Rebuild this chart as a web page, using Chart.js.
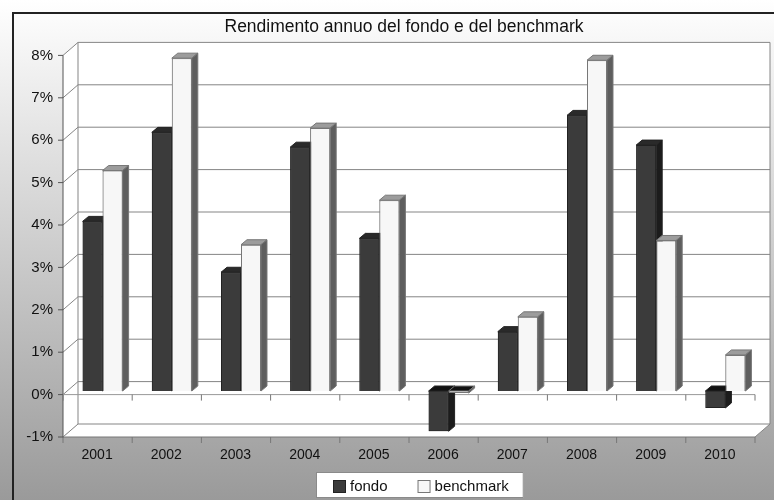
<!DOCTYPE html>
<html>
<head>
<meta charset="utf-8">
<script src="https://cdn.jsdelivr.net/npm/chart.js@4/dist/chart.umd.min.js"></script>
<style>
  html, body { margin: 0; padding: 0; }
  body {
    width: 774px; height: 500px; overflow: hidden; position: relative;
    background: linear-gradient(#ffffff 0%, #9a9a9a 100%);
  }
  #frame {
    position: absolute; left: 12px; top: 12px; width: 800px; height: 600px;
    border-left: 2px solid #222; border-top: 2px solid #222;
  }
  canvas { position: absolute; left: 0; top: 0; }
</style>
</head>
<body>
<div id="frame"></div>
<canvas id="chart" width="774" height="500"></canvas>
<script>
/* === Data === */
const years     = ["2001","2002","2003","2004","2005","2006","2007","2008","2009","2010"];
const fondo     = [4.0, 6.1, 2.8, 5.75, 3.6, -0.95, 1.4, 6.5, 5.8, -0.4];
const benchmark = [5.2, 7.85, 3.45, 6.2, 4.5, -0.05, 1.75, 7.8, 3.55, 0.85];
const yMin = -1, yMax = 8, yStep = 1;

/* === Look === */
const FONT = "'Liberation Sans Narrow', 'Arial Narrow', 'Liberation Sans', Arial, sans-serif";
const FACES = [
  { front: '#3b3b3b', edge: '#222', top: '#2a2a2a', negTop: '#111', side: '#1c1c1c' },
  { front: '#f7f7f7', edge: '#777', top: '#9c9c9c', negTop: '#111', side: '#5e5e5e' }
];
const DX = 6, DY = 5;              // bar depth
const FRONT = { dx: -5, dy: 3.6 }; // front plane vs bar plane
const BACK  = { dx: 10, dy: -9.4 };// back wall vs bar plane

function poly(ctx, pts, fill, stroke) {
  ctx.beginPath();
  pts.forEach(([px, py], i) => i ? ctx.lineTo(px, py) : ctx.moveTo(px, py));
  ctx.closePath();
  if (fill) { ctx.fillStyle = fill; ctx.fill(); }
  if (stroke) { ctx.strokeStyle = stroke; ctx.lineWidth = 1; ctx.stroke(); }
}
function line(ctx, x1, y1, x2, y2) {
  ctx.beginPath(); ctx.moveTo(x1, y1); ctx.lineTo(x2, y2); ctx.stroke();
}

/* === Title centred over the plot rather than the canvas === */
const titleShift = {
  id: 'titleShift',
  afterLayout(chart) {
    const t = chart.titleBlock;
    if (t) { t.left += 24; t.right += 24; }
  }
};

/* === Walls, floor and grid === */
const walls = {
  id: 'walls',
  beforeDatasetsDraw(chart) {
    const { ctx, chartArea: a, scales: { y } } = chart;
    const fl = a.left + FRONT.dx, fr = a.right + FRONT.dx;
    const bl = a.left + BACK.dx,  br = a.right + BACK.dx;
    const fy = v => y.getPixelForValue(v) + FRONT.dy;
    const by = v => y.getPixelForValue(v) + BACK.dy;
    ctx.save();
    // white planes
    ctx.fillStyle = '#fff';
    ctx.fillRect(bl, by(yMax), br - bl, by(yMin) - by(yMax));
    poly(ctx, [[fl, fy(yMax)], [bl, by(yMax)], [bl, by(yMin)], [fl, fy(yMin)]], '#fff');
    poly(ctx, [[fl, fy(yMin)], [bl, by(yMin)], [br, by(yMin)], [fr, fy(yMin)]], '#fff');

    ctx.lineWidth = 1;
    ctx.strokeStyle = '#858585';
    y.ticks.forEach(t => {
      const v = t.value;
      line(ctx, bl, by(v), br, by(v));
      line(ctx, fl, fy(v), bl, by(v));
    });
    line(ctx, bl, by(yMax), bl, by(yMin));
    line(ctx, br, by(yMax), br, by(yMin));
    line(ctx, fr, fy(yMin), br, by(yMin));

    // front axis with ticks
    ctx.strokeStyle = '#555';
    line(ctx, fl, fy(yMax), fl, fy(yMin) + 1);
    y.ticks.forEach(t => line(ctx, fl - 5, fy(t.value), fl, fy(t.value)));

    // floor edges at 0 and at the bottom, with category ticks
    const n = chart.data.labels.length;
    [0, yMin].forEach(v => {
      ctx.strokeStyle = v === 0 ? '#999' : '#777';
      line(ctx, fl, fy(v), fr, fy(v));
      ctx.strokeStyle = '#777';
      for (let i = 0; i <= n; i++) {
        const xb = fl + i * (fr - fl) / n;
        line(ctx, xb, fy(v), xb, fy(v) + 6);
      }
    });
    ctx.restore();
  }
};

/* === 3D bars (redrawn per category so faces overlap correctly) === */
const bars3d = {
  id: 'bars3d',
  afterDatasetsDraw(chart) {
    const ctx = chart.ctx;
    const metas = chart.data.datasets.map((d, k) => chart.getDatasetMeta(k));
    for (let i = 0; i < chart.data.labels.length; i++) {
      metas.forEach((meta, k) => {
        const el = meta.data[i];
        const { x, y, base, width } = el.getProps(['x', 'y', 'base', 'width'], true);
        const x0 = x - width / 2, x1 = x + width / 2;
        const up = Math.min(y, base), low = Math.max(y, base);
        const f = FACES[k];
        ctx.save();
        el.draw(ctx);
        poly(ctx, [[x0, up], [x0 + DX, up - DY], [x1 + DX, up - DY], [x1, up]],
             y > base ? f.negTop : f.top, f.edge);
        poly(ctx, [[x1, up], [x1 + DX, up - DY], [x1 + DX, low - DY], [x1, low]],
             f.side, f.edge);
        ctx.restore();
      });
    }
  }
};

/* === Legend in a white box === */
const legendBox = {
  id: 'legendBox',
  afterDraw(chart) {
    const ctx = chart.ctx;
    const a = chart.chartArea;
    ctx.save();
    ctx.font = "15px " + FONT;
    ctx.textBaseline = 'middle';
    const items = chart.data.datasets.map((d, k) => ({ text: d.label, w: ctx.measureText(d.label).width, k }));
    const box = 13, gap = 4, between = 30, padL = 17, padR = 15;
    const total = padL + padR + items.reduce((s, it) => s + box + gap + it.w, 0) + between * (items.length - 1);
    const cx = (a.left + a.right) / 2 + 6;
    const left = Math.round(cx - total / 2), top = 472, h = 26;
    ctx.fillStyle = '#fff';
    ctx.fillRect(left, top, total, h);
    ctx.strokeStyle = '#8a8a8a'; ctx.lineWidth = 1;
    ctx.strokeRect(left + 0.5, top + 0.5, total - 1, h - 1);
    let xx = left + padL;
    const midY = top + 14;
    items.forEach(it => {
      ctx.fillStyle = FACES[it.k].front;
      ctx.fillRect(xx, midY - 6, box, box);
      ctx.strokeStyle = FACES[it.k].edge;
      ctx.strokeRect(xx + 0.5, midY - 5.5, box - 1, box - 1);
      xx += box + gap;
      ctx.fillStyle = '#111';
      ctx.fillText(it.text, xx, midY + 1);
      xx += it.w + between;
    });
    ctx.restore();
  }
};

/* === Chart === */
new Chart(document.getElementById('chart'), {
  type: 'bar',
  data: {
    labels: years,
    datasets: [
      { label: 'fondo', data: fondo, backgroundColor: FACES[0].front, borderColor: FACES[0].edge, borderWidth: 1 },
      { label: 'benchmark', data: benchmark, backgroundColor: FACES[1].front, borderColor: FACES[1].edge, borderWidth: 1 }
    ]
  },
  options: {
    responsive: false,
    animation: false,
    layout: { padding: { top: 0, right: 14, bottom: 26.6, left: 0 } },
    datasets: { bar: { categoryPercentage: 0.578, barPercentage: 1.0 } },
    plugins: {
      legend: { display: false },
      tooltip: { enabled: false },
      title: {
        display: true,
        text: 'Rendimento annuo del fondo e del benchmark',
        color: '#111',
        font: { family: FONT, size: 17.5, weight: 'normal' },
        padding: { top: 16.5, bottom: 14.3 }
      }
    },
    scales: {
      x: {
        grid: { display: false },
        border: { display: false },
        ticks: { color: '#111', font: { family: FONT, size: 14 }, padding: 5, labelOffset: -5.5, maxRotation: 0 },
        afterFit(s) { s.height = 40; }
      },
      y: {
        min: yMin, max: yMax,
        grid: { display: false },
        border: { display: false },
        ticks: {
          stepSize: yStep, color: '#111', padding: 7, labelOffset: 3.6,
          font: { family: FONT, size: 15 },
          callback: v => v + '%'
        },
        afterFit(s) { s.width = 68; }
      }
    }
  },
  plugins: [titleShift, walls, bars3d, legendBox]
});
</script>
</body>
</html>
